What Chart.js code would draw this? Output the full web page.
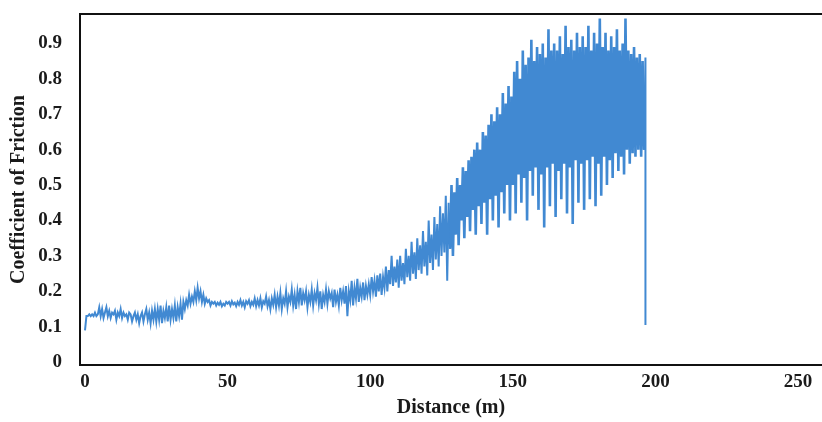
<!DOCTYPE html>
<html><head><meta charset="utf-8">
<script src="https://cdn.jsdelivr.net/npm/chart.js@4/dist/chart.umd.min.js"></script>
<style>html,body{margin:0;padding:0;background:#fff}#wrap{width:822px;height:422px}</style>
</head><body><div id="wrap"><canvas id="c" width="822" height="422"></canvas></div>
<script>
// Axis tick labels
const xTicks = [0, 50, 100, 150, 200, 250];
const yTicks = [0, 0.1, 0.2, 0.3, 0.4, 0.5, 0.6, 0.7, 0.8, 0.9];
const xTitle = 'Distance (m)';
const yTitle = 'Coefficient of Friction';

const sampleStep = 0.5;
const segAStart = 0;   // 0 - 49.5 m
const segA = [
  0.09,0.13,0.13,0.135,0.13,0.135,0.13,0.14,0.13,0.135,
  0.155,0.13,0.15,0.125,0.14,0.155,0.13,0.145,0.125,0.14,
  0.135,0.145,0.12,0.14,0.13,0.15,0.125,0.14,0.13,0.135,
  0.12,0.14,0.135,0.115,0.13,0.14,0.12,0.135,0.11,0.13,
  0.14,0.115,0.135,0.15,0.12,0.14,0.11,0.145,0.12,0.15,
  0.115,0.15,0.12,0.16,0.11,0.145,0.125,0.155,0.115,0.16,
  0.12,0.15,0.125,0.16,0.115,0.155,0.13,0.165,0.12,0.17,
  0.15,0.175,0.16,0.19,0.165,0.185,0.17,0.2,0.175,0.21,
  0.18,0.2,0.17,0.19,0.165,0.18,0.17,0.175,0.16,0.17,
  0.165,0.17,0.16,0.168,0.162,0.17,0.158,0.165,0.16,0.17
];
const segBStart = 50;  // 50 - 99.5 m
const segB = [
  0.165,0.17,0.16,0.172,0.163,0.168,0.158,0.17,0.162,0.175,
  0.16,0.17,0.155,0.172,0.165,0.175,0.158,0.17,0.162,0.18,
  0.158,0.175,0.16,0.18,0.155,0.172,0.165,0.185,0.158,0.175,
  0.15,0.18,0.162,0.19,0.155,0.185,0.16,0.195,0.15,0.18,
  0.165,0.2,0.155,0.185,0.17,0.205,0.16,0.19,0.15,0.2,
  0.17,0.21,0.16,0.195,0.175,0.2,0.155,0.19,0.17,0.205,
  0.16,0.195,0.175,0.21,0.165,0.2,0.15,0.19,0.17,0.205,
  0.165,0.2,0.18,0.195,0.155,0.205,0.17,0.19,0.16,0.21,
  0.175,0.2,0.165,0.215,0.13,0.2,0.175,0.23,0.16,0.21,
  0.18,0.235,0.17,0.21,0.185,0.225,0.175,0.215,0.19,0.22
];
const segCStart = 100; // 100 - 149.5 m
const segC = [
  0.19,0.24,0.2,0.23,0.185,0.245,0.2,0.25,0.19,0.24,
  0.21,0.27,0.2,0.26,0.22,0.3,0.215,0.27,0.225,0.29,
  0.21,0.3,0.23,0.28,0.22,0.32,0.24,0.3,0.23,0.34,
  0.25,0.31,0.235,0.35,0.26,0.33,0.25,0.37,0.27,0.34,
  0.245,0.4,0.28,0.36,0.26,0.41,0.29,0.39,0.27,0.44,
  0.3,0.42,0.31,0.47,0.23,0.45,0.32,0.5,0.3,0.48,
  0.36,0.52,0.33,0.5,0.4,0.55,0.35,0.54,0.41,0.57,
  0.37,0.58,0.43,0.6,0.36,0.62,0.44,0.6,0.39,0.65,
  0.45,0.64,0.36,0.67,0.46,0.7,0.4,0.68,0.47,0.72,
  0.38,0.7,0.48,0.76,0.42,0.73,0.5,0.78,0.4,0.75
];
const segDStart = 150; // 150 - 196.5 m
const segD = [
  0.5,0.82,0.42,0.85,0.53,0.8,0.45,0.88,0.52,0.84,
  0.4,0.86,0.54,0.91,0.47,0.85,0.55,0.89,0.43,0.87,
  0.53,0.9,0.38,0.86,0.55,0.94,0.44,0.88,0.56,0.9,
  0.41,0.88,0.54,0.92,0.46,0.87,0.56,0.95,0.42,0.89,
  0.55,0.91,0.39,0.88,0.57,0.93,0.45,0.89,0.56,0.92,
  0.43,0.89,0.57,0.95,0.46,0.88,0.58,0.93,0.44,0.9,
  0.56,0.97,0.47,0.89,0.58,0.93,0.5,0.88,0.57,0.92,
  0.52,0.89,0.59,0.94,0.54,0.88,0.58,0.9,0.53,0.97,
  0.6,0.88,0.56,0.87,0.59,0.89,0.58,0.86,0.6,0.87,
  0.58,0.85,0.6,0.86
];
// final drop at end of test
const dropDistance = [196.5];
const dropValue = [0.105];

function toPoints(start, vals) {
  return vals.map((v, i) => ({ x: start + i * sampleStep, y: v }));
}
const points = [
  ...toPoints(segAStart, segA),
  ...toPoints(segBStart, segB),
  ...toPoints(segCStart, segC),
  ...toPoints(segDStart, segD),
  ...dropDistance.map((d, i) => ({ x: d, y: dropValue[i] }))
];

const framePlugin = {
  id: 'frame',
  afterDatasetsDraw(chart) {
    const { ctx, chartArea: a } = chart;
    ctx.save();
    ctx.strokeStyle = '#111';
    ctx.lineWidth = 2;
    ctx.beginPath();
    ctx.moveTo(a.right, a.top);
    ctx.lineTo(a.left, a.top);
    ctx.lineTo(a.left, a.bottom);
    ctx.lineTo(a.right, a.bottom);
    ctx.stroke();
    ctx.restore();
  }
};

const tickFont = { family: '"Liberation Serif", "Times New Roman", serif', size: 19, weight: 'bold' };
const titleFont = { family: '"Liberation Serif", "Times New Roman", serif', size: 20, weight: 'bold' };

new Chart(document.getElementById('c'), {
  type: 'line',
  data: {
    datasets: [{
      data: points,
      borderColor: '#4189d2',
      borderWidth: 2,
      pointRadius: 0,
      tension: 0,
      fill: false,
      segment: {
        borderWidth: ctx => (ctx.p0.parsed.x >= 128 && ctx.p1.parsed.x < 196.4 ? 2.6 : 2)
      }
    }]
  },
  options: {
    responsive: false,
    animation: false,
    layout: { padding: { top: 14, right: 0, left: 0, bottom: 0 } },
    plugins: { legend: { display: false }, tooltip: { enabled: false } },
    scales: {
      x: {
        type: 'linear',
        min: -1.75,
        max: 258.4,
        afterBuildTicks: s => { s.ticks = xTicks.map(v => ({ value: v })); },
        afterFit: s => { s.height = 57; s.paddingLeft = 0; s.paddingRight = 0; },
        grid: { display: false, drawTicks: false },
        border: { display: false },
        ticks: { font: tickFont, color: '#1a1a1a', padding: 6, maxRotation: 0, autoSkip: false },
        title: { display: true, text: xTitle, font: titleFont, color: '#1a1a1a', padding: { top: 0, bottom: 2 } }
      },
      y: {
        min: -0.008,
        max: 0.983,
        afterBuildTicks: s => { s.ticks = yTicks.map(v => ({ value: v })); },
        afterFit: s => { s.width = 80; s.paddingTop = 0; s.paddingBottom = 0; },
        grid: { display: false, drawTicks: false },
        border: { display: false },
        ticks: { font: tickFont, color: '#1a1a1a', padding: 18, callback: v => String(v) },
        title: { display: true, text: yTitle, font: titleFont, color: '#1a1a1a', padding: { top: 7, bottom: 0 } }
      }
    }
  },
  plugins: [framePlugin]
});
</script>
</body></html>
